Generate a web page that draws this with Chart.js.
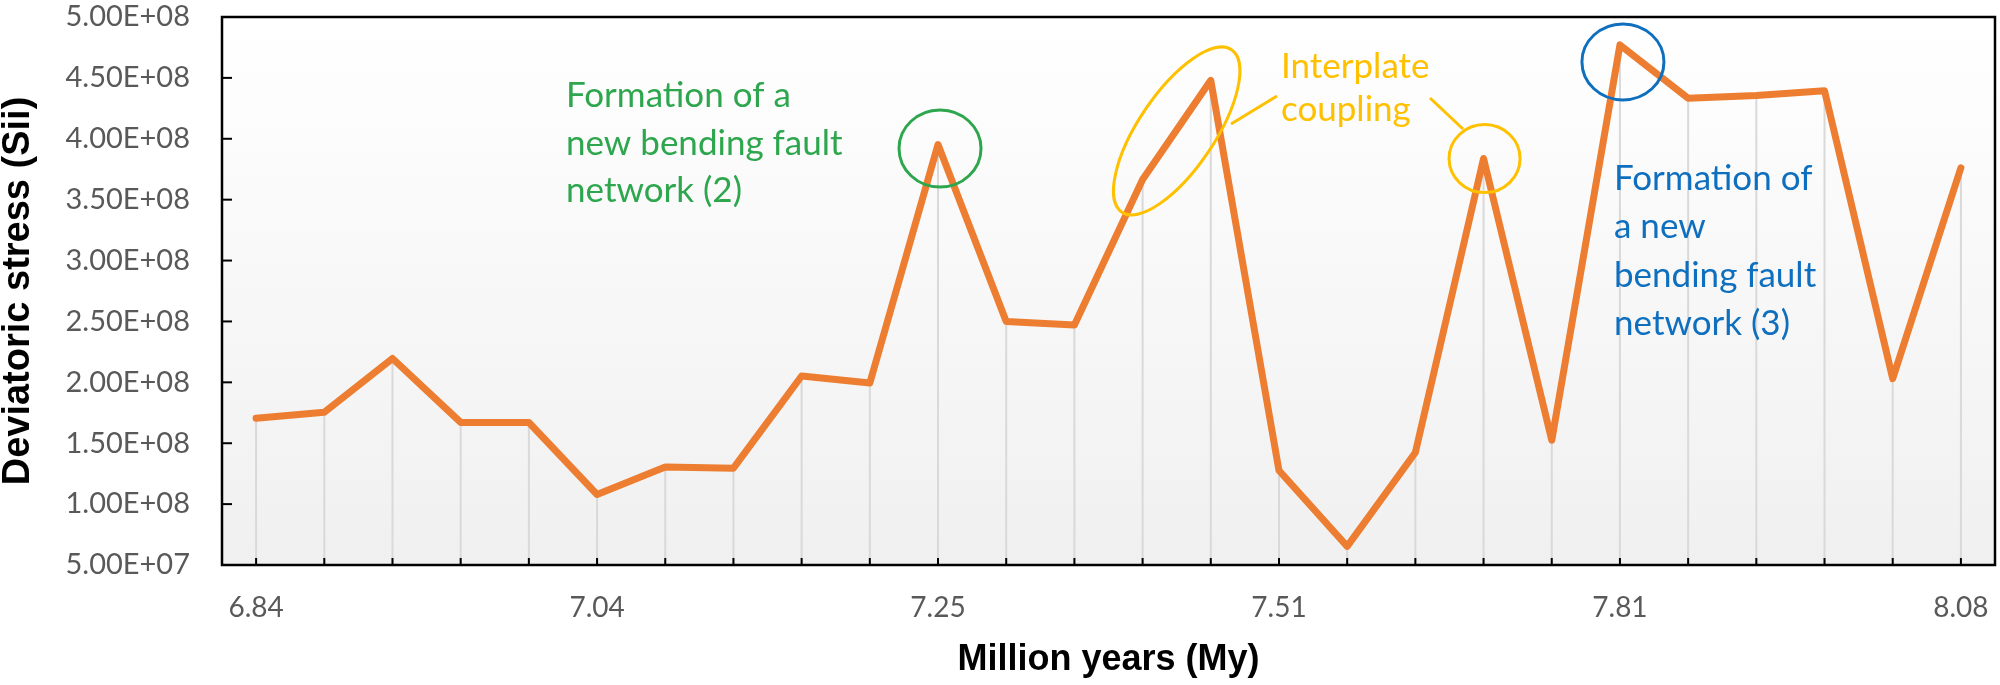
<!DOCTYPE html>
<html>
<head>
<meta charset="utf-8">
<script src="https://cdn.jsdelivr.net/npm/chart.js@4.4.1/dist/chart.umd.min.js"></script>
<style>
  html, body { margin: 0; padding: 0; background: #fff; }
  #wrap { width: 2000px; height: 685px; }
</style>
</head>
<body>
<div id="wrap"><canvas id="myChart"></canvas></div>
<script>
// million years, only every 5th step is labelled on the axis
const years = ['6.84', '', '', '', '', '7.04', '', '', '', '', '7.25', '', '', '', '',
               '7.51', '', '', '', '', '7.81', '', '', '', '', '8.08'];
// deviatoric stress Sii
const stress = [1.705e8, 1.754e8, 2.196e8, 1.671e8, 1.670e8, 1.079e8, 1.305e8, 1.295e8,
                2.052e8, 1.994e8, 3.953e8, 2.500e8, 2.471e8, 3.666e8, 4.480e8, 1.276e8,
                0.653e8, 1.424e8, 3.838e8, 1.524e8, 4.771e8, 4.333e8, 4.355e8, 4.394e8,
                2.030e8, 3.762e8];
const yMin = 5e7;
const yMax = 5e8;
const yStep = 5e7;

const textFont = 'Lato, "Open Sans", sans-serif';
const boldFont = '"Liberation Sans", Arial, sans-serif';

function sci(v) {
    const e = Math.floor(Math.log10(v));
    const m = (v / Math.pow(10, e)).toFixed(2);
    return m + 'E+' + String(e).padStart(2, '0');
}

// callouts, drawn on top of the line
const notes = [
    { color: '#2ea64e', lines: ['Formation of a', 'new bending fault', 'network (2)'], x: 566, y: 107, gap: 47.5 },
    { color: '#ffc000', lines: ['Interplate', 'coupling'], x: 1281, y: 78, gap: 43 },
    { color: '#0f6fbf', lines: ['Formation of', 'a new', 'bending fault', 'network (3)'], x: 1614, y: 190, gap: 48.3 }
];
// rings around points: from/to index (averaged), offset, radii, angle
const rings = [
    { color: '#2ea64e', from: 10, to: 10, dx: 2, dy: 4, rx: 41, ry: 38.5, rot: 0 },
    { color: '#ffc000', from: 13, to: 14, dx: 0, dy: 1, rx: 98, ry: 38, rot: -56 },
    { color: '#ffc000', from: 18, to: 18, dx: 1, dy: 0, rx: 35.5, ry: 34, rot: 0 },
    { color: '#0f6fbf', from: 20, to: 20, dx: 3, dy: 17, rx: 41, ry: 38, rot: 0 }
];
const leaders = [
    { color: '#ffc000', pts: [1231, 124, 1277, 96] },
    { color: '#ffc000', pts: [1430, 98, 1463, 129] }
];

const decor = {
    id: 'decor',
    beforeDraw(chart) {
        const { ctx, chartArea: a } = chart;
        const g = ctx.createLinearGradient(0, a.top, 0, a.bottom);
        g.addColorStop(0, '#ffffff');
        g.addColorStop(1, '#f0f0f0');
        ctx.save();
        ctx.fillStyle = g;
        ctx.fillRect(a.left, a.top, a.width, a.height);
        ctx.restore();
    },
    beforeDatasetsDraw(chart) {
        // drop lines from each point to the axis
        const { ctx, chartArea: a } = chart;
        const meta = chart.getDatasetMeta(0);
        ctx.save();
        ctx.strokeStyle = '#d9d9d9';
        ctx.lineWidth = 2;
        meta.data.forEach(p => {
            ctx.beginPath();
            ctx.moveTo(p.x, p.y);
            ctx.lineTo(p.x, a.bottom);
            ctx.stroke();
        });
        ctx.restore();
    },
    afterDatasetsDraw(chart) {
        const { ctx, chartArea: a, scales } = chart;
        ctx.save();
        // frame
        ctx.strokeStyle = '#000';
        ctx.lineWidth = 2.5;
        ctx.strokeRect(a.left, a.top, a.width, a.height);
        // inward tick marks
        ctx.lineWidth = 2;
        scales.x.ticks.forEach((t, i) => {
            const x = scales.x.getPixelForTick(i);
            ctx.beginPath();
            ctx.moveTo(x, a.bottom);
            ctx.lineTo(x, a.bottom - 7);
            ctx.stroke();
        });
        scales.y.ticks.forEach((t, i) => {
            const y = scales.y.getPixelForTick(i);
            ctx.beginPath();
            ctx.moveTo(a.left, y);
            ctx.lineTo(a.left + 10, y);
            ctx.stroke();
        });
        // rings
        ctx.lineWidth = 3;
        rings.forEach(r => {
            const x = (scales.x.getPixelForValue(r.from) + scales.x.getPixelForValue(r.to)) / 2;
            const y = (scales.y.getPixelForValue(stress[r.from]) + scales.y.getPixelForValue(stress[r.to])) / 2;
            ctx.strokeStyle = r.color;
            ctx.beginPath();
            ctx.ellipse(x + r.dx, y + r.dy, r.rx, r.ry, r.rot * Math.PI / 180, 0, Math.PI * 2);
            ctx.stroke();
        });
        leaders.forEach(l => {
            ctx.strokeStyle = l.color;
            ctx.beginPath();
            ctx.moveTo(l.pts[0], l.pts[1]);
            ctx.lineTo(l.pts[2], l.pts[3]);
            ctx.stroke();
        });
        // callout text
        ctx.font = '35px ' + textFont;
        ctx.textBaseline = 'alphabetic';
        ctx.textAlign = 'left';
        notes.forEach(n => {
            ctx.fillStyle = n.color;
            n.lines.forEach((s, i) => ctx.fillText(s, n.x, n.y + i * n.gap));
        });
        ctx.restore();
    }
};

const data = {
    labels: years,
    datasets: [{
        label: 'Deviatoric stress',
        data: stress,
        borderColor: '#ed7d31',
        borderWidth: 7,
        borderJoinStyle: 'round',
        borderCapStyle: 'round',
        pointRadius: 0,
        tension: 0
    }]
};

const config = {
    type: 'line',
    data: data,
    options: {
        responsive: false,
        animation: false,
        layout: { padding: { top: 17, right: 5, left: 0, bottom: 0 } },
        plugins: {
            legend: { display: false },
            tooltip: { enabled: false }
        },
        scales: {
            x: {
                offset: true,
                grid: { display: false, drawTicks: false },
                border: { display: false },
                ticks: {
                    autoSkip: false,
                    maxRotation: 0,
                    padding: 26,
                    color: '#595959',
                    font: { family: textFont, size: 28 }
                },
                title: {
                    display: true,
                    text: 'Million years (My)',
                    color: '#000',
                    padding: { top: 0, bottom: 3 },
                    font: { family: boldFont, size: 36, weight: 'bold' }
                },
                afterFit(scale) {
                    scale.height = 120;
                    scale.paddingLeft = 0;
                    scale.paddingRight = 0;
                }
            },
            y: {
                min: yMin,
                max: yMax,
                grid: { display: false, drawTicks: false },
                border: { display: false },
                ticks: {
                    stepSize: yStep,
                    padding: 32,
                    color: '#595959',
                    font: { family: textFont, size: 29 },
                    callback: v => sci(v)
                },
                title: {
                    display: true,
                    text: 'Deviatoric stress (Sii)',
                    color: '#000',
                    padding: 0,
                    font: { family: boldFont, size: 38, weight: 'bold', lineHeight: 1.0 }
                },
                afterFit(scale) {
                    scale.width = 222;
                    scale.paddingTop = 0;
                    scale.paddingBottom = 0;
                }
            }
        }
    },
    plugins: [decor]
};

const canvas = document.getElementById('myChart');
canvas.width = 2000;
canvas.height = 685;
const myChart = new Chart(canvas, config);
</script>
</body>
</html>
